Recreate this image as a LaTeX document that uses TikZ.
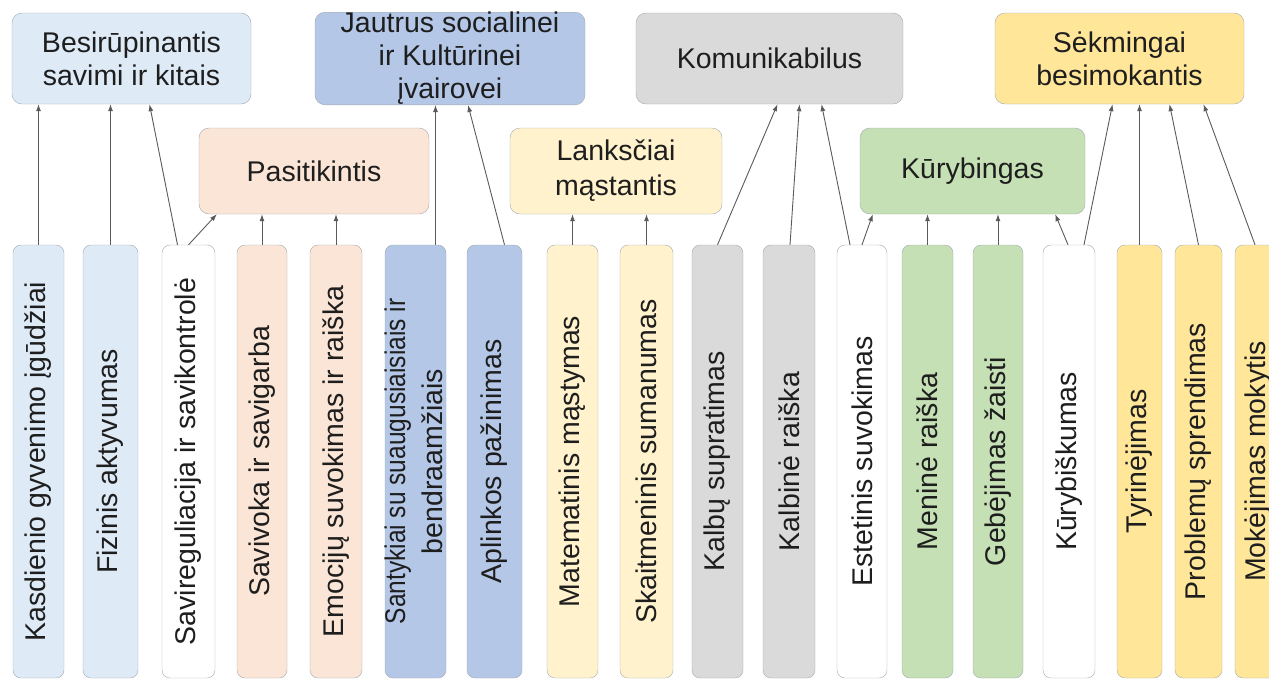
\documentclass[tikz,border=0pt]{standalone}
\usepackage{fontspec}
\setmainfont{Liberation Sans}
\usepackage{graphicx}
\usetikzlibrary{arrows.meta}

\definecolor{bluelt}{HTML}{DEEBF7}
\definecolor{bluemd}{HTML}{B4C7E7}
\definecolor{peach}{HTML}{FBE5D6}
\definecolor{yellowlt}{HTML}{FFF2CC}
\definecolor{greylt}{HTML}{DADADA}
\definecolor{greenlt}{HTML}{C5E0B4}
\definecolor{yellowmd}{HTML}{FFE699}
\definecolor{boxline}{HTML}{A3A8AE}
\definecolor{arrline}{HTML}{5A5A5A}
\definecolor{txt}{HTML}{1E1E1E}

\begin{document}
\begin{tikzpicture}[x=1pt,y=-1pt,
  top/.style={draw=boxline,rounded corners=10pt,inner sep=0pt,align=center,text=txt,
    minimum height=91pt,font=\fontsize{28.5}{33}\selectfont},
  mid/.style={top,minimum height=86pt,font=\fontsize{28.5}{35}\selectfont},
  col/.style={draw=boxline,rounded corners=8pt,inner sep=0pt,text=txt,
    minimum height=433pt,font=\fontsize{28.5}{34}\selectfont},
  arr/.style={draw=arrline,line width=0.9pt,-{Latex[length=7pt,width=5pt]}}]
\useasboundingbox (0,0) rectangle (1269,681);
\clip (0,0) rectangle (1269,681);

% top row
\node[top,fill=bluelt,minimum width=239pt] at (131.5,58.5) (besir) {Besirūpinantis\\savimi ir kitais};
\node[top,fill=bluemd,minimum width=270pt] at (450,58.5) (jautrus) {Jautrus socialinei\\ir Kultūrinei\\įvairovei};
\node[top,fill=greylt,minimum width=267pt] at (769.5,58.5) (komun) {Komunikabilus};
\node[top,fill=yellowmd,minimum width=249pt] at (1119.5,58.5) (sekm) {Sėkmingai\\besimokantis};

% middle row
\node[mid,fill=peach,minimum width=230pt] at (314,171) (pasit) {Pasitikintis};
\node[mid,fill=yellowlt,minimum width=212pt] at (616,171) (lanksc) {Lanksčiai\\mąstantis};
\node[mid,fill=greenlt,minimum width=225pt] at (972.5,171) (kuryb) {Kūrybingas};

% columns
\node[col,fill=bluelt,minimum width=51pt] at (38.5,461.5) (c1) {\rotatebox{90}{Kasdienio gyvenimo įgūdžiai}};
\node[col,fill=bluelt,minimum width=55pt] at (110.5,461.5) (c2) {\rotatebox{90}{Fizinis aktyvumas}};
\node[col,fill=white,minimum width=53pt] at (188.5,461.5) (c3) {\rotatebox{90}{Savireguliacija ir savikontrolė}};
\node[col,fill=peach,minimum width=50pt] at (262,461.5) (c4) {\rotatebox{90}{Savivoka ir savigarba}};
\node[col,fill=peach,minimum width=52pt] at (336,461.5) (c5) {\rotatebox{90}{Emocijų suvokimas ir raiška}};
\node[col,fill=bluemd,minimum width=61pt] at (415.5,461.5) (c6) {\rotatebox{90}{\fontsize{28.5}{37}\selectfont\smash{\raisebox{-7pt}{\begin{tabular}{@{}c@{}}\scalebox{0.86}[1]{Santykiai su suaugusiaisiais ir}\\bendraamžiais\end{tabular}}}}};
\node[col,fill=bluemd,minimum width=55pt] at (494.5,461.5) (c7) {\rotatebox{90}{Aplinkos pažinimas}};
\node[col,fill=yellowlt,minimum width=51pt] at (572.5,461.5) (c8) {\rotatebox{90}{Matematinis mąstymas}};
\node[col,fill=yellowlt,minimum width=53pt] at (646.5,461.5) (c9) {\rotatebox{90}{Skaitmeninis sumanumas}};
\node[col,fill=greylt,minimum width=51pt] at (717.5,461.5) (c10) {\rotatebox{90}{Kalbų supratimas}};
\node[col,fill=greylt,minimum width=52pt] at (789,461.5) (c11) {\rotatebox{90}{Kalbinė raiška}};
\node[col,fill=white,minimum width=50pt] at (862,461.5) (c12) {\rotatebox{90}{Estetinis suvokimas}};
\node[col,fill=greenlt,minimum width=51pt] at (927.5,461.5) (c13) {\rotatebox{90}{Meninė raiška}};
\node[col,fill=greenlt,minimum width=50pt] at (998,461.5) (c14) {\rotatebox{90}{Gebėjimas žaisti}};
\node[col,fill=white,minimum width=52pt] at (1069,461.5) (c15) {\rotatebox{90}{Kūrybiškumas}};
\node[col,fill=yellowmd,minimum width=45pt] at (1139.5,461.5) (c16) {\rotatebox{90}{Tyrinėjimas}};
\node[col,fill=yellowmd,minimum width=47pt] at (1198.5,461.5) (c17) {\rotatebox{90}{Problemų sprendimas}};
\node[col,fill=yellowmd,minimum width=46pt] at (1258,461.5) (c18) {\rotatebox{90}{Mokėjimas mokytis}};

% connectors
\coordinate (s6) at ([xshift=20pt]c6.north);
\draw[arr] (c1) -- (c1 |- besir.south);
\draw[arr] (c2) -- (c2 |- besir.south);
\draw[arr] ([xshift=-11pt]c3.north) -- ([xshift=18pt]besir.south);
\draw[arr] (c3.north) -- ([xshift=18pt]pasit.south west);
\draw[arr] (c4) -- (c4 |- pasit.south);
\draw[arr] (c5) -- (c5 |- pasit.south);
\draw[arr] (s6) -- (s6 |- jautrus.south);
\draw[arr] ([xshift=10pt]c7.north) -- ([xshift=18pt]jautrus.south);
\draw[arr] (c8) -- (c8 |- lanksc.south);
\draw[arr] (c9) -- (c9 |- lanksc.south);
\draw[arr] (c10.north) -- ([xshift=8pt]komun.south);
\draw[arr] ([xshift=1pt]c11.north) -- ([xshift=30pt]komun.south);
\draw[arr] ([xshift=-12pt]c12.north) -- ([xshift=52pt]komun.south);
\draw[arr] (c12.north) -- ([xshift=13pt]kuryb.south west);
\draw[arr] (c13) -- (c13 |- kuryb.south);
\draw[arr] (c14) -- (c14 |- kuryb.south);
\draw[arr] ([xshift=-1pt]c15.north) -- ([xshift=-30pt]kuryb.south east);
\draw[arr] ([xshift=15pt]c15.north) -- ([xshift=-7pt]sekm.south);
\draw[arr] (c16) -- (c16 |- sekm.south);
\draw[arr] (c17.north) -- ([xshift=50pt]sekm.south);
\draw[arr] ([xshift=-3pt]c18.north) -- ([xshift=84pt]sekm.south);
\end{tikzpicture}
\end{document}
